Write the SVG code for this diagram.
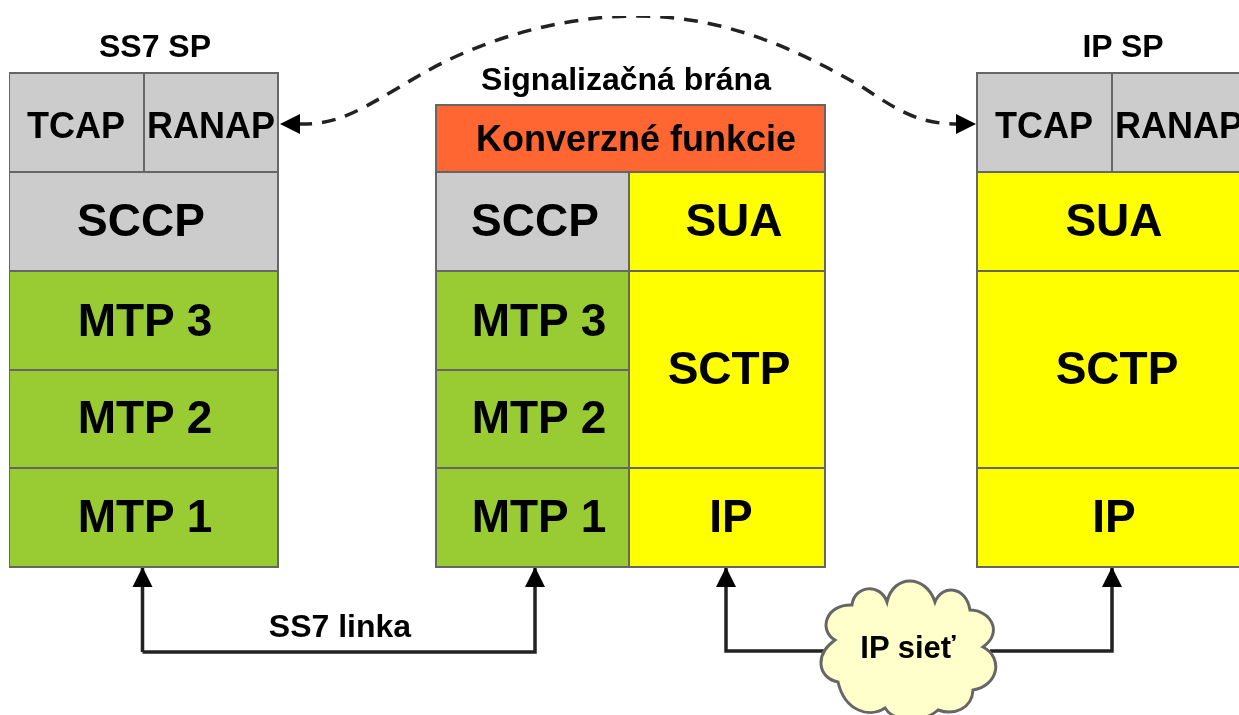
<svg xmlns="http://www.w3.org/2000/svg" width="1239" height="715" viewBox="0 0 1239 715">
<style>
text{font-family:"Liberation Sans",Arial,sans-serif;font-weight:bold;fill:#000;text-anchor:middle}
.b{stroke:#666;stroke-width:2}
.g{fill:#ccc}.n{fill:#9c3}.y{fill:#ff0}.o{fill:#f63}
.L{font-size:46px}.M{font-size:36px}.K{font-size:36px}.T{font-size:32px}
.c{fill:none;stroke:#222;stroke-width:3.500}
.d{fill:none;stroke:#222;stroke-width:3.500;stroke-dasharray:14 10}
</style>
<defs>
<marker id="ah" markerUnits="userSpaceOnUse" markerWidth="22" markerHeight="22" refX="20" refY="11" orient="auto"><path d="M0 1L20 11L0 21Z" fill="#000"/></marker>
<filter id="soft" x="0" y="0" width="100%" height="100%"><feGaussianBlur stdDeviation="0.6"/></filter>
</defs>
<rect width="1239" height="715" fill="#fff"/>
<g filter="url(#soft)">
<g id="connectors">
<path class="c" d="M142.500 652H535V567" marker-end="url(#ah)"/>
<path class="c" d="M142.500 652V567" marker-end="url(#ah)"/>
<path class="c" d="M830 651H726V567" marker-end="url(#ah)"/>
<path class="c" d="M990 651H1112V567" marker-end="url(#ah)"/>
<path class="d" d="M298 124C340 125 360 110 420 75C480 40 560 16 637 16C720 16 790 45 864 88C900 112 920 124 958 124"/>
<path d="M280 124L300 114V134Z" fill="#000"/>
<path d="M976 124L956 114V134Z" fill="#000"/>
</g>
<g id="ss7-sp">
<text class="T" x="155" y="57">SS7 SP</text>
<g id="ss7-tcap"><rect class="b g" x="9" y="73" width="135" height="99"/><text class="M" x="76" y="138">TCAP</text></g>
<g id="ss7-ranap"><rect class="b g" x="144" y="73" width="134" height="99"/><text class="M" x="211" y="138">RANAP</text></g>
<g id="ss7-sccp"><rect class="b g" x="9" y="172" width="269" height="99"/><text class="L" x="141" y="236">SCCP</text></g>
<g id="ss7-mtp3"><rect class="b n" x="9" y="271" width="269" height="99"/><text class="L" x="145" y="336">MTP 3</text></g>
<g id="ss7-mtp2"><rect class="b n" x="9" y="370" width="269" height="98"/><text class="L" x="145" y="433">MTP 2</text></g>
<g id="ss7-mtp1"><rect class="b n" x="9" y="468" width="269" height="99"/><text class="L" x="145" y="532">MTP 1</text></g>
</g>
<g id="gateway">
<text class="T" x="626" y="90">Signalizačná brána</text>
<g id="gw-conv"><rect class="b o" x="436" y="105" width="389" height="67"/><text class="K" x="636" y="151">Konverzné funkcie</text></g>
<g id="gw-sccp"><rect class="b g" x="436" y="172" width="193" height="99"/><text class="L" x="535" y="236">SCCP</text></g>
<g id="gw-mtp3"><rect class="b n" x="436" y="271" width="193" height="99"/><text class="L" x="539" y="336">MTP 3</text></g>
<g id="gw-mtp2"><rect class="b n" x="436" y="370" width="193" height="98"/><text class="L" x="539" y="433">MTP 2</text></g>
<g id="gw-mtp1"><rect class="b n" x="436" y="468" width="193" height="99"/><text class="L" x="539" y="532">MTP 1</text></g>
<g id="gw-sua"><rect class="b y" x="629" y="172" width="196" height="99"/><text class="L" x="734" y="236">SUA</text></g>
<g id="gw-sctp"><rect class="b y" x="629" y="271" width="196" height="197"/><text class="L" x="729" y="384">SCTP</text></g>
<g id="gw-ip"><rect class="b y" x="629" y="468" width="196" height="99"/><text class="L" x="731" y="532">IP</text></g>
</g>
<g id="ip-sp">
<text class="T" x="1123" y="57">IP SP</text>
<g id="ip-tcap"><rect class="b g" x="977" y="73" width="135" height="99"/><text class="M" x="1044" y="138">TCAP</text></g>
<g id="ip-ranap"><rect class="b g" x="1112" y="73" width="134" height="99"/><text class="M" x="1179" y="138">RANAP</text></g>
<g id="ip-sua"><rect class="b y" x="977" y="172" width="269" height="99"/><text class="L" x="1114" y="236">SUA</text></g>
<g id="ip-sctp"><rect class="b y" x="977" y="271" width="269" height="197"/><text class="L" x="1117" y="384">SCTP</text></g>
<g id="ip-ip"><rect class="b y" x="977" y="468" width="269" height="99"/><text class="L" x="1114" y="532">IP</text></g>
</g>
<g id="ip-cloud">
<path d="M852 605C854 586 880 582 887 602C893 574 926 574 935 602C942 584 966 586 970 610C990 610 1004 632 983 647C1004 658 998 686 973 690C972 708 955 716 938 710C925 722 895 724 885 708C870 718 845 712 838 682C818 678 814 655 835 640C818 630 826 604 852 605Z" fill="#ffc" stroke="#666" stroke-width="3"/>
<text x="908" y="658" font-size="31">IP sieť</text>
</g>
<text x="340" y="637" font-size="32">SS7 linka</text>
</g>
</svg>
